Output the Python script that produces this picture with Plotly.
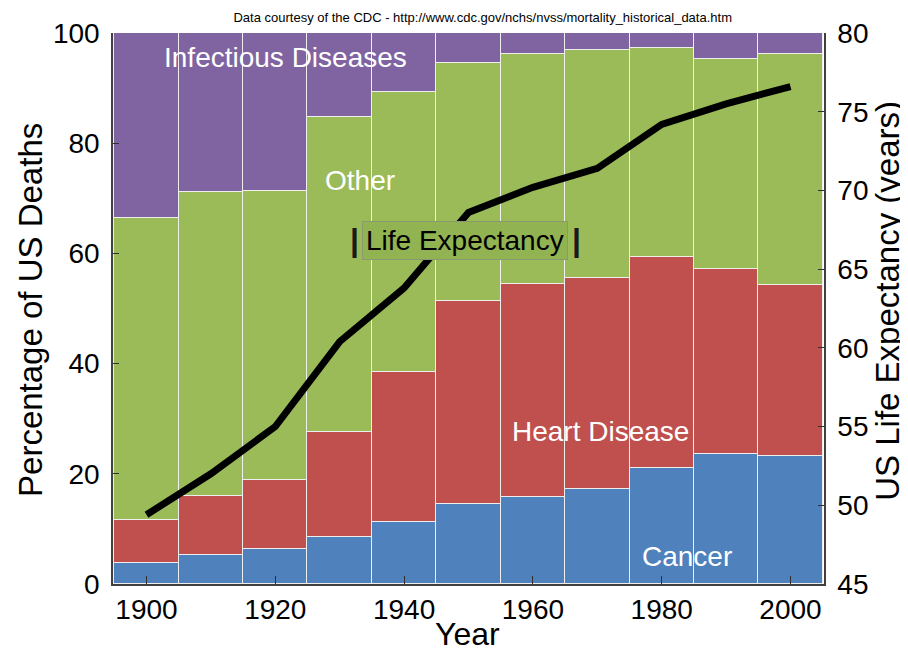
import plotly.graph_objects as go

years = [1900, 1910, 1920, 1930, 1940, 1950, 1960, 1970, 1980, 1990, 2000]

# share of US deaths (%) per cause
cancer = [3.8, 5.2, 6.4, 8.6, 11.3, 14.5, 15.7, 17.2, 21.0, 23.6, 23.2]
heart = [7.9, 10.8, 12.4, 19.0, 27.1, 36.9, 38.7, 38.4, 38.3, 33.5, 31.0]
other = [54.7, 55.1, 52.5, 57.2, 50.9, 43.2, 41.8, 41.3, 38.0, 38.2, 42.0]
infectious = [33.6, 28.9, 28.7, 15.2, 10.7, 5.4, 3.8, 3.1, 2.7, 4.7, 3.8]

life_expectancy = [49.4, 52.0, 55.0, 60.4, 63.8, 68.6, 70.2, 71.4, 74.2, 75.5, 76.6]

causas = [
    ("Cancer", cancer, "#4f81bd"),
    ("Heart Disease", heart, "#c0504d"),
    ("Other", other, "#9bbb59"),
    ("Infectious Diseases", infectious, "#8064a2"),
]

fuente = "Arial, Liberation Sans, sans-serif"

fig = go.Figure()
for nombre, valores, color in causas:
    fig.add_trace(go.Bar(
        x=years, y=valores, name=nombre, width=10,
        marker=dict(color=color, line=dict(color="#eeeeee", width=1.5)),
    ))

fig.add_trace(go.Scatter(
    x=years, y=life_expectancy, mode="lines", name="Life Expectancy",
    line=dict(color="black", width=7), yaxis="y2",
))


def nota(texto, px, py, size, color, **extra):
    fig.add_annotation(text=texto, x=px, y=py, xref="paper", yref="paper", showarrow=False,
                       xanchor="center", yanchor="middle",
                       font=dict(size=size, color=color, family=fuente), **extra)


etiquetas = [
    ("Infectious Diseases", 0.242, 0.955),
    ("Other", 0.347, 0.732),
    ("Heart Disease", 0.685, 0.276),
    ("Cancer", 0.808, 0.05),
]
for texto, px, py in etiquetas:
    nota(texto, px, py, 28, "white")

nota("Life Expectancy", 0.4955, 0.624, 28, "black",
     bgcolor="#92b352", bordercolor="#8a9a70", borderwidth=1, borderpad=3)
for px in (0.34, 0.652):
    nota("<b>|</b>", px, 0.624, 32, "#1a1a1a")

# titulos de ejes como anotaciones para fijar su posicion
nota("Percentage of US Deaths", -0.117, 0.497, 33, "black", textangle=-90)
nota("US Life Expectancy (years)", 1.09, 0.514, 33, "black", textangle=-90)
nota("Year", 0.499, -0.09, 32, "black")

eje = dict(showgrid=False, zeroline=False, showline=True, linecolor="#404040", linewidth=1.5,
           ticks="inside", tickcolor="#303030", automargin=False,
           tickfont=dict(size=28, color="black", family=fuente))

# la pagina tiene 8px de margen en el body
fig.update_layout(
    width=900, height=648,
    barmode="stack", bargap=0,
    showlegend=False,
    plot_bgcolor="white", paper_bgcolor="white",
    margin=dict(l=105, r=84, t=25, b=72),
    title=dict(text="Data courtesy of the CDC - http://www.cdc.gov/nchs/nvss/mortality_historical_data.htm",
               x=0.52, xref="paper", y=0.986, yref="container", xanchor="center", yanchor="middle",
               font=dict(size=13, color="black", family=fuente)),
    xaxis=dict(eje, range=[1894.8, 2005.2], tickvals=[1900, 1920, 1940, 1960, 1980, 2000], ticklen=8),
    yaxis=dict(eje, range=[0, 100], tickvals=[0, 20, 40, 60, 80, 100], ticklen=6, ticklabelstandoff=6),
    yaxis2=dict(eje, range=[45, 80], tickvals=[45, 50, 55, 60, 65, 70, 75, 80], ticklen=6,
                overlaying="y", side="right", ticklabelstandoff=6),
)

fig.write_html("out.html")
